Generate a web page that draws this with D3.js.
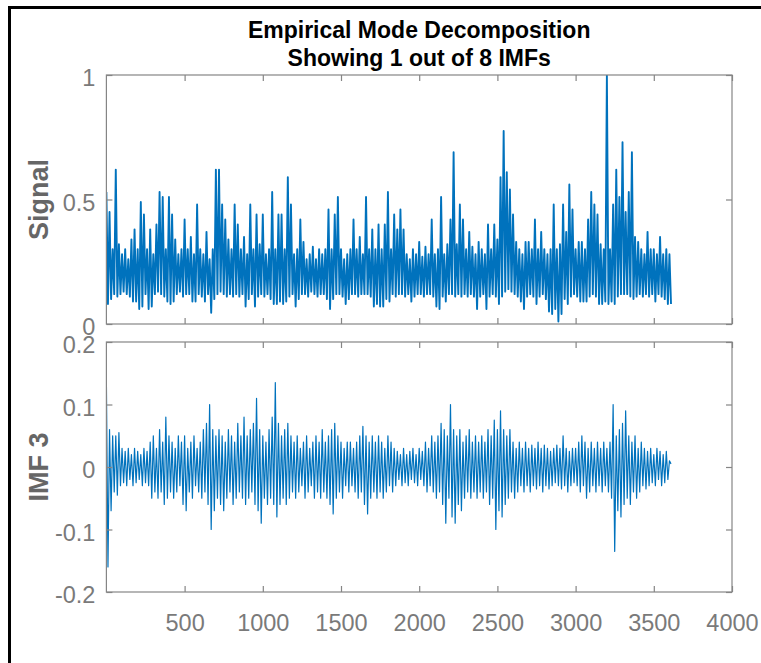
<!DOCTYPE html>
<html><head><meta charset="utf-8">
<script src="https://cdn.jsdelivr.net/npm/d3@7"></script>
<style>body{margin:0;background:#fff}svg{display:block}</style>
</head><body>
<svg id="c" width="761" height="663"></svg>
<script>
// ---- data (one hi/lo pair per 20-sample segment) ----
const segLen = 20;
const sigHi = [
0.53,0.45,0.30,0.62,0.32,0.28,0.30,0.26,0.34,0.38,
0.30,0.49,0.44,0.30,0.38,0.28,0.40,0.53,0.51,0.30,
0.51,0.44,0.34,0.28,0.30,0.42,0.30,0.35,0.28,0.48,
0.30,0.28,0.37,0.26,0.30,0.62,0.62,0.48,0.42,0.34,
0.30,0.48,0.40,0.30,0.35,0.28,0.48,0.30,0.44,0.32,
0.44,0.28,0.30,0.53,0.30,0.44,0.44,0.30,0.59,0.48,
0.28,0.30,0.42,0.33,0.26,0.28,0.31,0.26,0.30,0.28,
0.30,0.46,0.30,0.44,0.51,0.30,0.26,0.28,0.30,0.42,
0.30,0.35,0.28,0.51,0.30,0.38,0.30,0.40,0.30,0.40,
0.53,0.30,0.44,0.38,0.46,0.38,0.28,0.26,0.30,0.28,
0.33,0.27,0.31,0.28,0.42,0.28,0.30,0.51,0.28,0.32,
0.42,0.69,0.32,0.48,0.42,0.30,0.37,0.31,0.28,0.33,
0.30,0.28,0.40,0.30,0.40,0.34,0.59,0.775,0.61,0.54,
0.44,0.33,0.30,0.28,0.33,0.33,0.30,0.42,0.30,0.37,
0.30,0.28,0.30,0.48,0.30,0.32,0.48,0.37,0.56,0.46,
0.30,0.33,0.33,0.30,0.42,0.53,0.48,0.44,0.32,0.30,
1.00,0.30,0.48,0.62,0.51,0.73,0.45,0.53,0.69,0.35,
0.33,0.30,0.28,0.37,0.30,0.30,0.28,0.35,0.28,0.30,
0.28];
const sigLo = [
0.08,0.10,0.12,0.11,0.12,0.13,0.12,0.11,0.09,0.09,
0.06,0.07,0.12,0.06,0.07,0.12,0.13,0.12,0.11,0.09,
0.08,0.09,0.12,0.13,0.11,0.12,0.12,0.09,0.09,0.12,
0.11,0.09,0.12,0.045,0.10,0.12,0.13,0.12,0.11,0.12,
0.11,0.12,0.11,0.12,0.07,0.10,0.12,0.07,0.11,0.12,
0.11,0.12,0.10,0.08,0.08,0.09,0.08,0.09,0.11,0.12,
0.07,0.10,0.12,0.12,0.11,0.13,0.12,0.11,0.12,0.12,
0.10,0.06,0.10,0.12,0.12,0.11,0.08,0.10,0.12,0.12,
0.11,0.12,0.12,0.12,0.11,0.07,0.08,0.07,0.07,0.10,
0.09,0.12,0.11,0.12,0.12,0.11,0.12,0.09,0.11,0.12,
0.12,0.11,0.12,0.12,0.11,0.07,0.06,0.11,0.09,0.12,
0.12,0.11,0.12,0.11,0.12,0.11,0.12,0.11,0.06,0.11,
0.12,0.06,0.11,0.12,0.11,0.08,0.11,0.13,0.14,0.13,
0.12,0.11,0.09,0.06,0.11,0.12,0.11,0.08,0.11,0.12,
0.10,0.05,0.04,0.06,0.01,0.04,0.10,0.08,0.11,0.12,
0.11,0.09,0.09,0.09,0.11,0.12,0.11,0.08,0.08,0.09,
0.08,0.09,0.08,0.11,0.12,0.12,0.12,0.11,0.10,0.11,
0.12,0.11,0.12,0.11,0.12,0.09,0.12,0.11,0.10,0.08,
0.08];
const imfHi = [
0.135,0.06,0.05,0.05,0.055,0.03,0.025,0.03,0.02,0.03,
0.025,0.02,0.03,0.025,0.04,0.05,0.03,0.06,0.04,0.08,
0.05,0.04,0.03,0.05,0.04,0.05,0.03,0.04,0.05,0.03,
0.04,0.06,0.07,0.10,0.06,0.05,0.06,0.05,0.04,0.06,
0.05,0.04,0.07,0.05,0.08,0.05,0.06,0.07,0.11,0.06,
0.05,0.04,0.06,0.08,0.135,0.07,0.05,0.06,0.07,0.05,
0.04,0.05,0.03,0.04,0.05,0.03,0.04,0.05,0.04,0.06,
0.04,0.05,0.06,0.07,0.05,0.04,0.03,0.04,0.04,0.03,
0.04,0.05,0.065,0.05,0.04,0.05,0.04,0.05,0.04,0.03,
0.05,0.04,0.03,0.025,0.02,0.03,0.02,0.025,0.03,0.02,
0.03,0.025,0.04,0.03,0.05,0.04,0.05,0.07,0.06,0.05,
0.10,0.06,0.05,0.06,0.04,0.05,0.06,0.04,0.05,0.04,
0.05,0.04,0.06,0.05,0.075,0.06,0.09,0.06,0.05,0.06,
0.04,0.03,0.04,0.03,0.04,0.03,0.035,0.03,0.04,0.03,
0.035,0.03,0.025,0.03,0.035,0.03,0.05,0.03,0.025,0.03,
0.03,0.04,0.05,0.04,0.03,0.04,0.03,0.04,0.03,0.04,
0.03,0.04,0.10,0.05,0.06,0.07,0.09,0.05,0.04,0.05,
0.03,0.04,0.03,0.025,0.03,0.02,0.03,0.025,0.02,0.025,
0.01];
const imfLo = [
-0.16,-0.07,-0.04,-0.045,-0.03,-0.025,-0.03,-0.02,-0.03,-0.025,
-0.02,-0.03,-0.025,-0.03,-0.05,-0.04,-0.05,-0.04,-0.06,-0.05,
-0.04,-0.05,-0.04,-0.03,-0.06,-0.07,-0.04,-0.05,-0.03,-0.04,
-0.05,-0.04,-0.06,-0.10,-0.07,-0.05,-0.06,-0.07,-0.05,-0.04,
-0.06,-0.05,-0.04,-0.05,-0.06,-0.05,-0.04,-0.06,-0.07,-0.09,
-0.05,-0.06,-0.05,-0.06,-0.08,-0.06,-0.05,-0.06,-0.05,-0.04,
-0.05,-0.04,-0.03,-0.05,-0.04,-0.03,-0.05,-0.04,-0.05,-0.04,
-0.05,-0.06,-0.075,-0.05,-0.04,-0.05,-0.03,-0.04,-0.03,-0.04,
-0.05,-0.04,-0.06,-0.075,-0.05,-0.04,-0.05,-0.04,-0.05,-0.04,
-0.03,-0.04,-0.03,-0.02,-0.03,-0.025,-0.03,-0.02,-0.025,-0.03,
-0.02,-0.03,-0.04,-0.03,-0.04,-0.05,-0.04,-0.06,-0.09,-0.05,
-0.08,-0.09,-0.06,-0.07,-0.05,-0.04,-0.05,-0.04,-0.05,-0.04,
-0.05,-0.04,-0.06,-0.05,-0.10,-0.07,-0.08,-0.06,-0.05,-0.04,
-0.05,-0.04,-0.03,-0.04,-0.03,-0.04,-0.03,-0.035,-0.03,-0.04,
-0.03,-0.035,-0.03,-0.025,-0.03,-0.035,-0.03,-0.04,-0.03,-0.025,
-0.03,-0.04,-0.03,-0.05,-0.04,-0.03,-0.04,-0.03,-0.04,-0.03,
-0.04,-0.05,-0.135,-0.07,-0.08,-0.06,-0.05,-0.06,-0.04,-0.05,
-0.04,-0.03,-0.035,-0.03,-0.025,-0.03,-0.02,-0.03,-0.025,-0.02,
0.005];
const xTicks = [500,1000,1500,2000,2500,3000,3500,4000];
const sigTicks = [0,0.5,1];
const imfTicks = [-0.2,-0.1,0,0.1,0.2];
const titleLines = ["Empirical Mode Decomposition","Showing 1 out of 8 IMFs"];

// ---- drawing ----
const svg = d3.select("#c");
const L = 106.4, R = 732;
const x = d3.scaleLinear().domain([0,4000]).range([L,R]);
const FONT = "'Liberation Sans', Arial, Helvetica, sans-serif";
const AX = "#858585", TXT = "#7a7a7a", LINE = "#0072BD";
const TFS = "23.5px";
const fmtY = d => d3.format("~g")(d).replace("\u2212","-");

// window frame
svg.append("rect").attr("x",8).attr("y",6).attr("width",753).attr("height",3).attr("fill","#000");
svg.append("rect").attr("x",8).attr("y",6).attr("width",3).attr("height",657).attr("fill","#000");

function toPts(hi, lo){
  const pts=[];
  hi.forEach((h,k)=>{ pts.push([k*segLen, h]); pts.push([k*segLen+segLen/2, lo[k]]); });
  return pts;
}

function panel(top, bottom, domain, ticks, hi, lo, label, showX, id, sw){
  const y = d3.scaleLinear().domain(domain).range([bottom, top]);
  const g = svg.append("g");
  g.append("clipPath").attr("id",id).append("rect")
    .attr("x",L).attr("y",top).attr("width",R-L).attr("height",bottom-top);
  const line = d3.line().x(d=>x(d[0])).y(d=>y(d[1]));
  g.append("path").datum(toPts(hi,lo)).attr("d",line)
    .attr("fill","none").attr("stroke",LINE).attr("stroke-width",sw)
    .attr("stroke-linejoin","round")
    .attr("clip-path",`url(#${id})`);
  // box
  g.append("rect").attr("x",L).attr("y",top).attr("width",R-L).attr("height",bottom-top)
    .attr("fill","none").attr("stroke",AX).attr("stroke-width",1.2);
  // axes with inward ticks
  const tl = 6;
  const bx = d3.axisBottom(x).tickValues(xTicks).tickSize(-tl).tickFormat(showX? d3.format("d") : "");
  const tx = d3.axisTop(x).tickValues(xTicks).tickSize(-tl).tickFormat("");
  const ly = d3.axisLeft(y).tickValues(ticks).tickSize(-tl).tickFormat(fmtY);
  const ry = d3.axisRight(y).tickValues(ticks).tickSize(-tl).tickFormat("");
  const style = s => { s.select(".domain").remove(); s.selectAll(".tick line").attr("stroke",AX).attr("stroke-width",1.2);
    s.selectAll("text").attr("fill",TXT).style("font-family",FONT).style("font-size",TFS); };
  g.append("g").attr("transform",`translate(0,${bottom})`).call(bx).call(style)
    .selectAll("text").attr("y",39).attr("dy","0");
  g.append("g").attr("transform",`translate(0,${top})`).call(tx).call(style);
  g.append("g").attr("transform",`translate(${L},0)`).call(ly).call(style)
    .selectAll("text").attr("x",-11).attr("dy","0.46em");
  g.append("g").attr("transform",`translate(${R},0)`).call(ry).call(style);
  g.append("text").attr("transform",`translate(39,${(top+bottom)/2}) rotate(-90)`)
    .attr("text-anchor","middle").attr("dominant-baseline","central")
    .attr("fill","#666").style("font-family",FONT).style("font-weight","bold").style("font-size","27px")
    .text(label);
}

panel(75, 324, [0,1], sigTicks, sigHi, sigLo, "Signal", false, "c1", 1.9);
panel(342, 592, [-0.2,0.2], imfTicks, imfHi, imfLo, "IMF 3", true, "c2", 1.2);

svg.selectAll("text.title").data(titleLines).enter().append("text")
  .attr("x",(L+R)/2).attr("y",(d,i)=>38+i*28).attr("text-anchor","middle")
  .attr("fill","#000").style("font-family",FONT).style("font-weight","bold").style("font-size","23px")
  .text(d=>d);
</script>
</body></html>
